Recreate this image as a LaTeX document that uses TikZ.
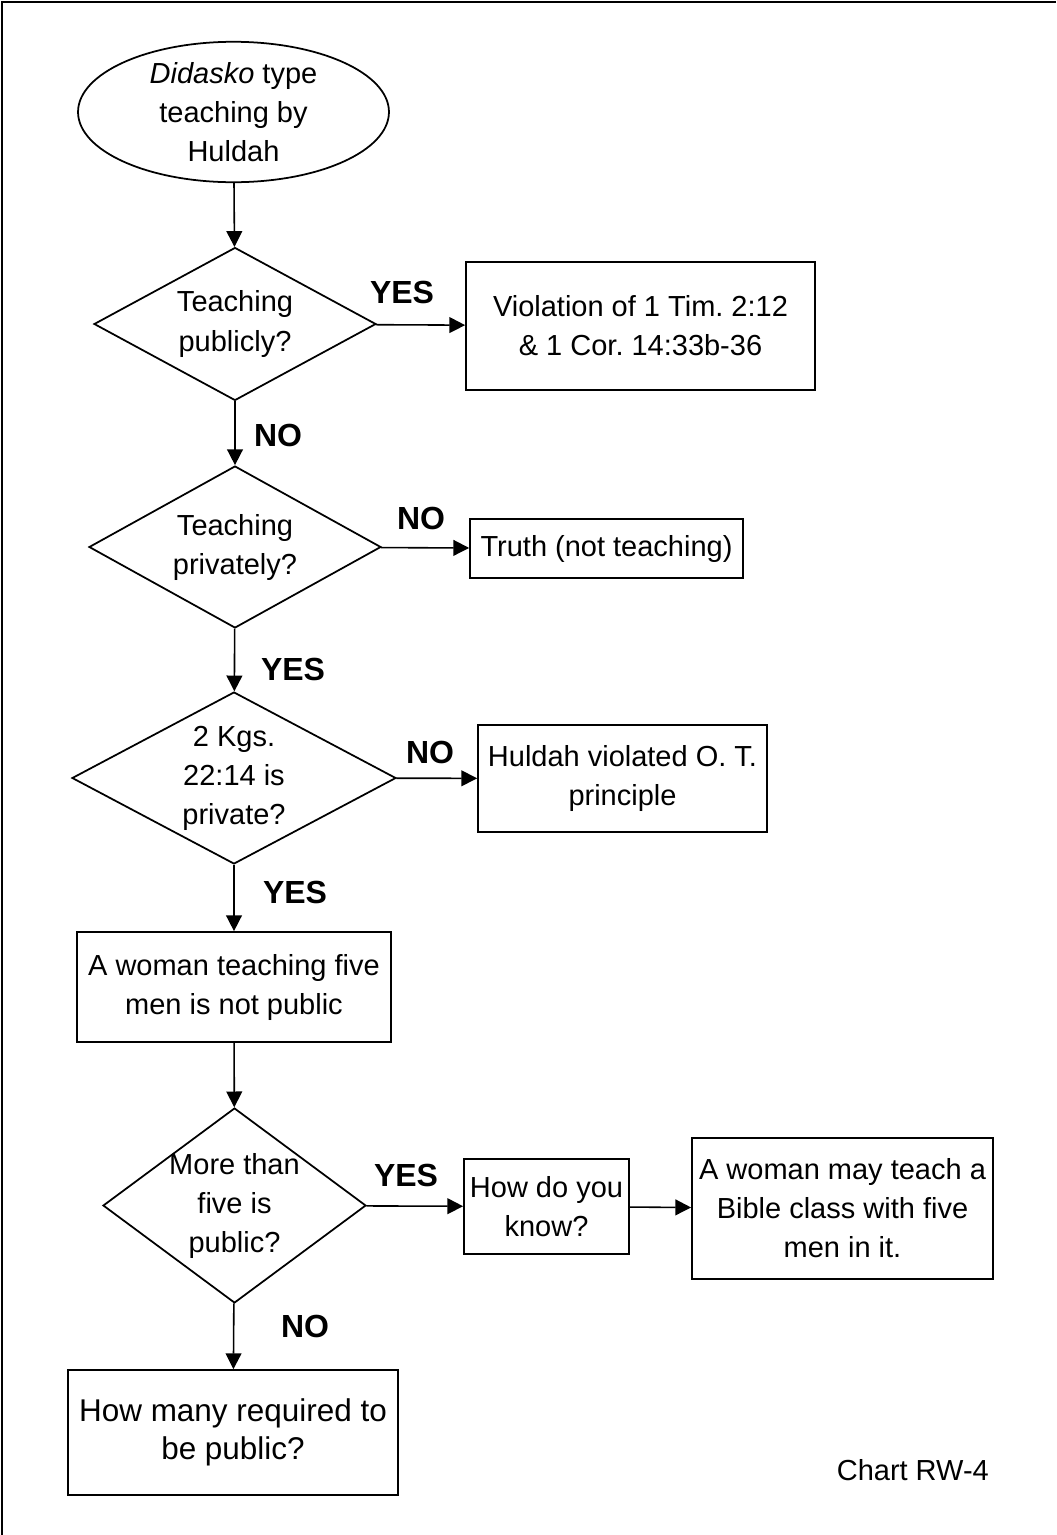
\documentclass[tikz,border=0pt]{standalone}
\usepackage{fontspec}
\setmainfont{Liberation Sans}
\usetikzlibrary{shapes.geometric,arrows.meta}
\frenchspacing

\begin{document}
\begin{tikzpicture}[x=0.02cm, y=-0.02cm,
    box/.style={draw, line width=1pt, align=center, inner sep=0pt,
      font=\fontsize{16.5}{22.2}\selectfont},
    decision/.style={draw, diamond, line width=1pt, align=center, inner sep=-6pt,
      font=\fontsize{16.5}{22.2}\selectfont},
    answer/.style={font=\bfseries\fontsize{18.2}{20}\selectfont},
    flow/.style={line width=0.9pt, -{Triangle[length=9pt,width=9pt]}}]
    \useasboundingbox (0,0) rectangle (1056,1535);
    % Frame (top and left only)
    \draw[line width=1.1pt] (2,1535) -- (2,2) -- (1056,2);
    % Start
    \node[box, ellipse, minimum width=6.22cm, minimum height=2.8cm] (start) at (233.5,112)
      {\textit{Didasko} type\\teaching by\\Huldah};
    % Decisions
    \node[decision, minimum width=5.64cm, minimum height=3.06cm] (public) at (235,324)
      {Teaching\\publicly?};
    \node[decision, minimum width=5.84cm, minimum height=3.24cm] (private) at (235,547)
      {Teaching\\privately?};
    \node[decision, minimum width=6.48cm, minimum height=3.44cm] (kings) at (234,778)
      {2 Kgs.\\22:14 is\\private?};
    \node[decision, minimum width=5.26cm, minimum height=3.9cm] (five) at (234.5,1205.5)
      {More than\\five is\\public?};
    % Boxes
    \node[box, minimum width=6.98cm, minimum height=2.56cm] (violation) at (640.5,326)
      {Violation of 1 Tim. 2:12\\\& 1 Cor. 14:33b-36};
    \node[box, minimum width=5.46cm, minimum height=1.18cm] (truth) at (606.5,548.5)
      {Truth (not teaching)};
    \node[box, minimum width=5.78cm, minimum height=2.14cm] (huldah) at (622.5,778.5)
      {Huldah violated O. T.\\principle};
    \node[box, minimum width=6.28cm, minimum height=2.2cm] (notpublic) at (234,987)
      {A woman teaching five\\men is not public};
    \node[box, minimum width=3.3cm, minimum height=1.9cm] (know) at (546.5,1206.5)
      {How do you\\know?};
    \node[box, minimum width=6.02cm, minimum height=2.82cm] (may) at (842.5,1208.5)
      {A woman may teach a\\Bible class with five\\men in it.};
    \node[box, minimum width=6.6cm, minimum height=2.5cm,
      font=\fontsize{17.9}{21.6}\selectfont] (howmany) at (233,1432.5)
      {How many required to\\be public?};
    % Connectors
    \draw[flow] (start) -- (public);
    \draw[flow] (public) -- (violation);
    \draw[flow] (public) -- (private);
    \draw[flow] (private) -- (truth);
    \draw[flow] (private) -- (kings);
    \draw[flow] (kings) -- (huldah);
    \draw[flow] (kings) -- (notpublic);
    \draw[flow] (notpublic) -- (five);
    \draw[flow] (five) -- (know);
    \draw[flow] (know) -- (may);
    \draw[flow] (five) -- (howmany);
    % Answers
    \node[answer] (yes1) at (402,292) {YES};
    \node[answer] (no1) at (278,435) {NO};
    \node[answer] (no2) at (421,518) {NO};
    \node[answer] (yes2) at (293,669) {YES};
    \node[answer] (no3) at (430,752) {NO};
    \node[answer] (yes3) at (295,892) {YES};
    \node[answer] (yes4) at (406,1175) {YES};
    \node[answer] (no4) at (305,1326) {NO};
    % Label
    \node[anchor=east, font=\fontsize{16.5}{20}\selectfont] (chart) at (995,1470) {Chart RW-4};
\end{tikzpicture}
\end{document}
